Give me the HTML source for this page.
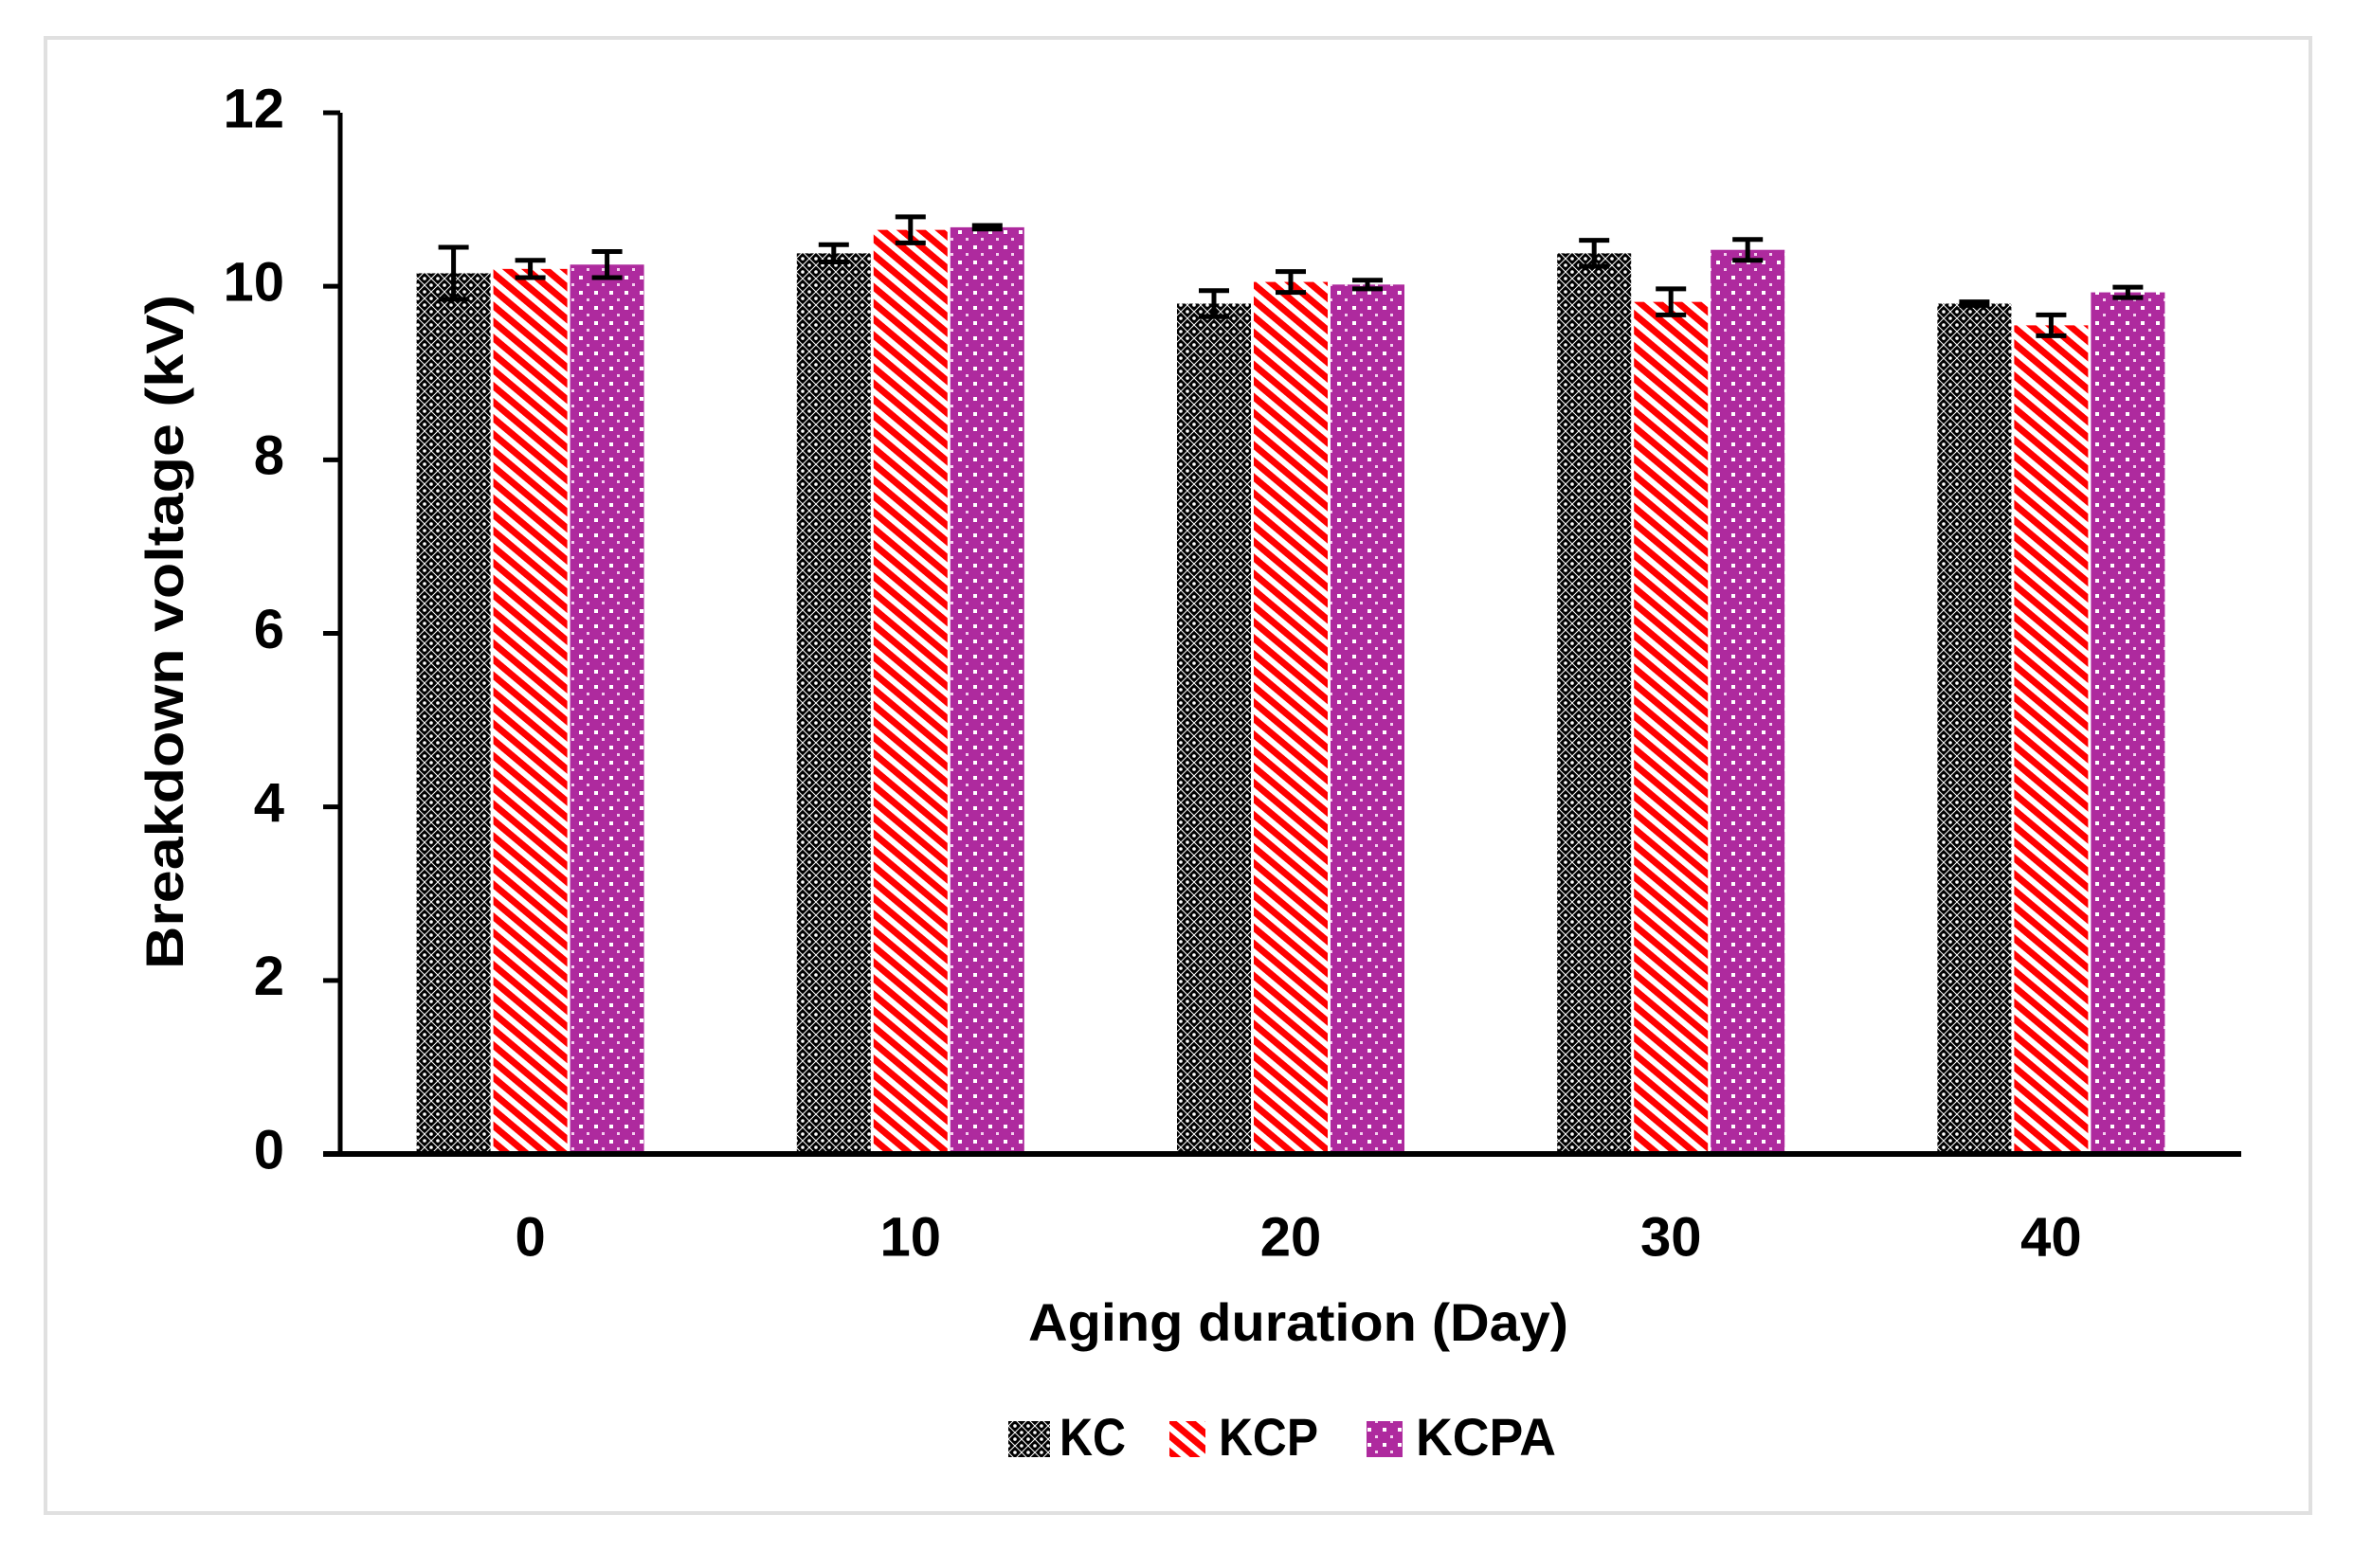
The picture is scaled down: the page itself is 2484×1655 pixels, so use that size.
<!DOCTYPE html>
<html><head><meta charset="utf-8"><style>
html,body{margin:0;padding:0;background:#fff;}
svg{display:block;font-family:"Liberation Sans",sans-serif;font-weight:bold;}
</style></head><body>
<svg id="chart" width="2484" height="1655" viewBox="0 0 2484 1655">
<defs>
<pattern id="pKC" width="14" height="14" patternUnits="userSpaceOnUse">
<rect width="14" height="14" fill="#000"/>
<circle cx="0" cy="0" r="1.8" fill="#fff"/><circle cx="14" cy="0" r="1.8" fill="#fff"/><circle cx="0" cy="14" r="1.8" fill="#fff"/><circle cx="14" cy="14" r="1.8" fill="#fff"/>
<circle cx="7" cy="7" r="1.8" fill="#fff"/>
<path d="M0 7 L7 0 L14 7 L7 14 Z" fill="none" stroke="#fff" stroke-width="1"/>
</pattern>
<pattern id="pKCP" width="13" height="13" patternUnits="userSpaceOnUse" patternTransform="rotate(40)">
<rect width="13" height="13" fill="#fff"/><rect width="13" height="7" fill="#ff0000"/>
</pattern>
<pattern id="pKCPA" width="16" height="16" patternUnits="userSpaceOnUse">
<rect width="16" height="16" fill="#ae2a9e"/>
<rect x="3" y="3" width="4" height="4" fill="#fff"/><rect x="11" y="11" width="3" height="3" fill="#f3d0ee"/>
</pattern>
</defs>
<rect x="48" y="40" width="2390" height="1557" fill="#fff" stroke="#e0e0e0" stroke-width="4"/>
<g id="plot"></g>
<text x="178" y="667" transform="rotate(-90 178 667)" text-anchor="middle" dominant-baseline="middle" font-size="56" textLength="712" lengthAdjust="spacingAndGlyphs">Breakdown voltage (kV)</text>
<text x="1370" y="1400" text-anchor="middle" dominant-baseline="middle" font-size="56" textLength="570" lengthAdjust="spacingAndGlyphs">Aging duration  (Day)</text>
<g>
<rect x="1064" y="1500" width="44" height="38" fill="url(#pKC)"/>
<text x="1118" y="1521" dominant-baseline="middle" font-size="56" textLength="70" lengthAdjust="spacingAndGlyphs">KC</text>
<rect x="1234" y="1500" width="38" height="38" fill="url(#pKCP)"/>
<text x="1286" y="1521" dominant-baseline="middle" font-size="56" textLength="105" lengthAdjust="spacingAndGlyphs">KCP</text>
<rect x="1442" y="1500" width="38" height="38" fill="url(#pKCPA)"/>
<text x="1494" y="1521" dominant-baseline="middle" font-size="56" textLength="148" lengthAdjust="spacingAndGlyphs">KCPA</text>
</g>
</svg>
<script>
const categories = ["0","10","20","30","40"];
const seriesNames = ["KC","KCP","KCPA"];
const kcValues = [10.15,10.38,9.8,10.38,9.8];
const kcpValues = [10.2,10.65,10.05,9.82,9.55];
const kcpaValues = [10.25,10.68,10.02,10.42,9.93];
const kcErr = [0.3,0.1,0.15,0.15,0.02];
const kcpErr = [0.1,0.15,0.12,0.15,0.12];
const kcpaErr = [0.15,0.02,0.05,0.12,0.06];
const yTicks = [0,2,4,6,8,10,12];

const NS = "http://www.w3.org/2000/svg";
const X0 = 359, X1 = 2365, Y0 = 1218, YTOP = 119;
const yScale = v => Y0 - (v / 12) * (Y0 - YTOP);
const bandW = (X1 - X0) / categories.length;
const xCenter = i => X0 + bandW * (i + 0.5);
const barW = 78;
const g = document.getElementById('plot');
function mk(tag, attrs) { const e = document.createElementNS(NS, tag); for (const k in attrs) e.setAttribute(k, attrs[k]); g.appendChild(e); return e; }

const series = [
  {vals: kcValues, err: kcErr, fill: "url(#pKC)", key: "kc"},
  {vals: kcpValues, err: kcpErr, fill: "url(#pKCP)", key: "kcp"},
  {vals: kcpaValues, err: kcpaErr, fill: "url(#pKCPA)", key: "kcpa"}
];
series.forEach((s, si) => {
  s.vals.forEach((v, i) => {
    const x = xCenter(i) + (si - 1) * (barW + 3) - barW / 2;
    const r = mk('rect', {x: x, y: yScale(v), width: barW, height: Y0 - yScale(v), fill: s.fill});
    
    
  });
});
series.forEach((s, si) => {
  s.vals.forEach((v, i) => {
    const cx = xCenter(i) + (si - 1) * (barW + 3);
    const yt = yScale(v + s.err[i]), yb = yScale(v - s.err[i]);
    const eb = mk('path', {d: `M${cx} ${yt} V${yb} M${cx-16} ${yt} H${cx+16} M${cx-16} ${yb} H${cx+16}`, stroke: "#000", "stroke-width": 5, fill: "none"});
    
    
  });
});
const ya = mk('line', {x1: X0, y1: YTOP, x2: X0, y2: Y0, stroke: "#000", "stroke-width": 5});


const xa = mk('line', {x1: X0 - 18, y1: Y0, x2: X1, y2: Y0, stroke: "#000", "stroke-width": 6});


yTicks.forEach(t => {
  const tk = mk('line', {x1: X0 - 18, y1: yScale(t), x2: X0, y2: yScale(t), stroke: "#000", "stroke-width": 5});
  
  
  const tx = mk('text', {x: 300, y: yScale(t), "text-anchor": "end", "dominant-baseline": "middle", "font-size": 58});
  tx.textContent = t;
  
  
});
categories.forEach((c, i) => {
  const tx = mk('text', {x: xCenter(i), y: 1310, "text-anchor": "middle", "dominant-baseline": "middle", "font-size": 58});
  tx.textContent = c;
  
  
});
</script>
</body></html>
